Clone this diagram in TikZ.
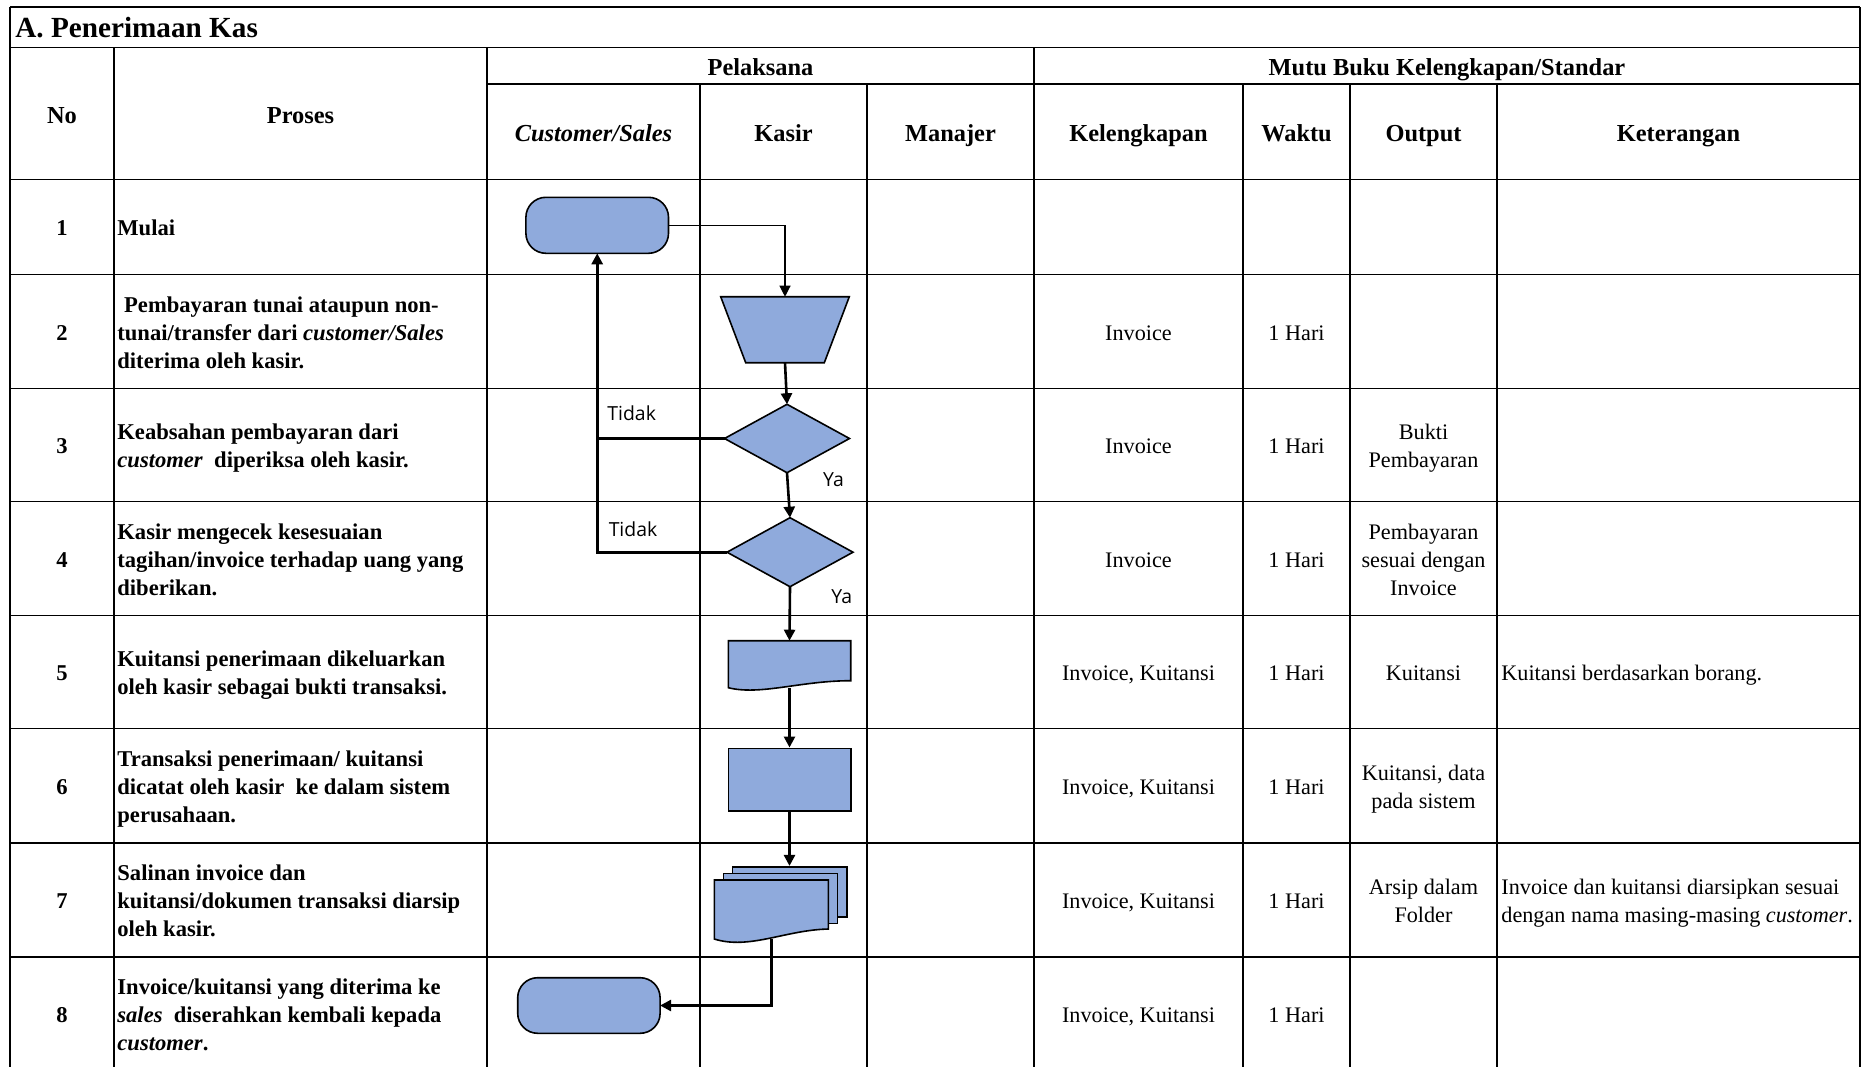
\documentclass[tikz,border=0pt]{standalone}
\usepackage{fontspec}
\setmainfont{Liberation Serif}
\newfontfamily\lblfont{Open Sans}
\usetikzlibrary{arrows.meta}
\definecolor{shapefill}{RGB}{143,170,220}
\newcommand\fbody{\fontsize{11.3}{14}\selectfont}
\newcommand\freg{\fontsize{11.1}{14}\selectfont}
\newcommand\fhead{\fontsize{12.2}{14}\selectfont\bfseries}
\newcommand\ftitle{\fontsize{14.6}{16}\selectfont\bfseries}
\newcommand\flbl{\lblfont\fontsize{9.7}{11}\selectfont}
\newcommand\stt{\rule[-3.5pt]{0pt}{14pt}}
\begin{document}
\begin{tikzpicture}[x=0.5pt,y=-0.5pt,
  tline/.style={line width=0.75pt},
  hline/.style={line width=0.65pt},
  cell/.style={font=\freg, align=center, inner sep=0pt, yshift=-0.75pt},
  proc/.style={font=\fbody\bfseries, align=left, anchor=west, inner sep=0pt, yshift=-0.75pt},
  ket/.style={font=\freg, align=left, anchor=west, inner sep=0pt, yshift=-0.75pt},
  hdr/.style={font=\fhead, align=center, inner sep=0pt, yshift=-1.5pt},
  num/.style={font=\fbody\bfseries, inner sep=0pt, yshift=-0.75pt},
  lbl/.style={font=\flbl, inner sep=0pt},
  flow/.style={fill=shapefill, draw=black, line width=0.8pt},
  holder/.style={draw=none, inner sep=0pt, outer sep=0pt},
  term/.style={flow, rounded corners=10pt, inner sep=0pt, outer sep=0pt},
  thinconn/.style={line width=0.6pt, -{Triangle[length=5.5pt,width=5.5pt]}},
  conn/.style={line width=1.3pt, -{Triangle[length=5.5pt,width=5.5pt]}},
  connline/.style={line width=1.3pt}
]
\useasboundingbox (0,0) rectangle (1864,1067);
\fill[white] (0,0) rectangle (1864,1067);

% ---------- table grid ----------
\foreach \x/\yt in {9.8/7, 114/47.5, 487/47.5, 700/84, 867/84, 1034/47.5, 1243/84, 1350/84, 1497/84, 1860/7}
  \draw[tline] (\x,\yt) -- (\x,1067);
\foreach \y in {7, 47.5, 179.5, 274.6, 388.7, 501.7, 615.8, 728.7, 842.9, 957}
  \draw[hline] (9.8,\y) -- (1860,\y);
\draw[hline] (487,84) -- (1860,84);

% ---------- title and headers ----------
\node[font=\ftitle, anchor=base west, inner sep=0pt] (title) at (15,37.7) {A. Penerimaan Kas};
\node[hdr] (hno) at (62,113.5) {\stt No};
\node[hdr] (hproses) at (300.5,113.5) {\stt Proses};
\node[hdr] (hpel) at (760.5,65.75) {\stt Pelaksana};
\node[hdr] (hmutu) at (1447,65.75) {\stt Mutu Buku Kelengkapan/Standar};
\node[hdr] (hcust) at (593.5,131.75) {\stt\textit{Customer/Sales}};
\node[hdr] (hkasir) at (783.5,131.75) {\stt Kasir};
\node[hdr] (hman) at (950.5,131.75) {\stt Manajer};
\node[hdr] (hkel) at (1138.5,131.75) {\stt Kelengkapan};
\node[hdr] (hwak) at (1296.5,131.75) {\stt Waktu};
\node[hdr] (hout) at (1423.5,131.75) {\stt Output};
\node[hdr] (hket) at (1678.5,131.75) {\stt Keterangan};

% ---------- numbers ----------
\node[num] (n1) at (62,227.05) {\stt 1};
\node[num] (n2) at (62,331.65) {\stt 2};
\node[num] (n3) at (62,445.2) {\stt 3};
\node[num] (n4) at (62,558.75) {\stt 4};
\node[num] (n5) at (62,672.25) {\stt 5};
\node[num] (n6) at (62,785.8) {\stt 6};
\node[num] (n7) at (62,899.95) {\stt 7};
\node[num] (n8) at (62,1014) {\stt 8};

% ---------- process texts ----------
\node[proc] (p1) at (117,227.05) {\stt Mulai};
\node[proc] (p2) at (117,331.65) {\stt\hspace*{0.3em}Pembayaran tunai ataupun non-\\\stt tunai/transfer dari \textit{customer/Sales}\\\stt diterima oleh kasir.};
\node[proc] (p3) at (117,445.2) {\stt Keabsahan pembayaran dari\\\stt\textit{customer}\ \ diperiksa oleh kasir.};
\node[proc] (p4) at (117,558.75) {\stt Kasir mengecek kesesuaian\\\stt tagihan/invoice terhadap uang yang\\\stt diberikan.};
\node[proc] (p5) at (117,672.25) {\stt Kuitansi penerimaan dikeluarkan\\\stt oleh kasir sebagai bukti transaksi.};
\node[proc] (p6) at (117,785.8) {\stt Transaksi penerimaan/ kuitansi\\\stt dicatat oleh kasir\ \ ke dalam sistem\\\stt perusahaan.};
\node[proc] (p7) at (117,899.95) {\stt Salinan invoice dan\\\stt kuitansi/dokumen transaksi diarsip\\\stt oleh kasir.};
\node[proc] (p8) at (117,1014) {\stt Invoice/kuitansi yang diterima ke\\\stt\textit{sales}\ \ diserahkan kembali kepada\\\stt\textit{customer}.};

% ---------- Kelengkapan / Waktu / Output / Keterangan ----------
\node[cell] (k2) at (1138.5,331.65) {\stt Invoice};
\node[cell] (k3) at (1138.5,445.2) {\stt Invoice};
\node[cell] (k4) at (1138.5,558.75) {\stt Invoice};
\node[cell] (k5) at (1138.5,672.25) {\stt Invoice, Kuitansi};
\node[cell] (k6) at (1138.5,785.8) {\stt Invoice, Kuitansi};
\node[cell] (k7) at (1138.5,899.95) {\stt Invoice, Kuitansi};
\node[cell] (k8) at (1138.5,1014) {\stt Invoice, Kuitansi};
\node[cell] (w2) at (1296.5,331.65) {\stt 1 Hari};
\node[cell] (w3) at (1296.5,445.2) {\stt 1 Hari};
\node[cell] (w4) at (1296.5,558.75) {\stt 1 Hari};
\node[cell] (w5) at (1296.5,672.25) {\stt 1 Hari};
\node[cell] (w6) at (1296.5,785.8) {\stt 1 Hari};
\node[cell] (w7) at (1296.5,899.95) {\stt 1 Hari};
\node[cell] (w8) at (1296.5,1014) {\stt 1 Hari};
\node[cell] (o3) at (1423.5,445.2) {\stt Bukti\\\stt Pembayaran};
\node[cell] (o4) at (1423.5,558.75) {\stt Pembayaran\\\stt sesuai dengan\\\stt Invoice};
\node[cell] (o5) at (1423.5,672.25) {\stt Kuitansi};
\node[cell] (o6) at (1423.5,785.8) {\stt Kuitansi, data\\\stt pada sistem};
\node[cell] (o7) at (1423.5,899.95) {\stt Arsip dalam\\\stt Folder};
\node[ket] (c5) at (1501,672.25) {\stt Kuitansi berdasarkan borang.};
\node[ket] (c7) at (1501,899.95) {\stt Invoice dan kuitansi diarsipkan sesuai\\\stt dengan nama masing-masing \textit{customer}.};

% ---------- flowchart shapes ----------
\node[term, minimum width=71.3pt, minimum height=28pt] (start) at (597.2,225.3) {};

\node[holder, minimum width=64.3pt, minimum height=33pt] (t2) at (785,329.7) {};
\filldraw[flow] (t2.north west) -- (t2.north east) -- ([xshift=-12.5pt]t2.south east) -- ([xshift=12.5pt]t2.south west) -- cycle;

\node[holder, minimum width=62.5pt, minimum height=34.2pt] (d1) at (787,438.5) {};
\filldraw[flow] (d1.north) -- (d1.east) -- (d1.south) -- (d1.west) -- cycle;

\node[holder, minimum width=63pt, minimum height=34.5pt] (d2) at (790,552.2) {};
\filldraw[flow] (d2.north) -- (d2.east) -- (d2.south) -- (d2.west) -- cycle;

\node[holder, minimum width=61.2pt, minimum height=23.5pt] (doc5) at (789.5,664.2) {};
\filldraw[flow] (doc5.north west) -- (doc5.north east) -- ([yshift=3.5pt]doc5.south east)
  .. controls +(-50,0) and +(32,8) .. (doc5.south west) -- cycle;

\node[flow, minimum width=61.2pt, minimum height=31.2pt, inner sep=0pt] (r6) at (789.5,779.5) {};

\node[flow, minimum width=57.2pt, minimum height=25pt, inner sep=0pt] (m7a) at (789.5,891.7) {};
\node[flow, minimum width=57pt, minimum height=25pt, inner sep=0pt] (m7b) at (780.3,898.3) {};
\node[holder, minimum width=57pt, minimum height=29.5pt] (m7c) at (771.3,909.5) {};
\filldraw[flow] (m7c.north west) -- (m7c.north east) -- ([yshift=5pt]m7c.south east)
  .. controls +(-43,1) and +(35,11) .. (m7c.south west) -- cycle;

\node[term, minimum width=71.2pt, minimum height=27.8pt] (end) at (588.9,1005.5) {};

% ---------- labels ----------
\node[lbl] (tidak1) at (631.7,413.3) {Tidak};
\node[lbl] (ya1) at (833.5,480) {Ya};
\node[lbl] (tidak2) at (633,529.3) {Tidak};
\node[lbl] (ya2) at (841.7,597) {Ya};

% ---------- connectors ----------
\draw[thinconn] (start.east) -| (t2.north);
\draw[conn] (t2.south) -- (d1.north);
\draw[conn] (d1.south) -- (d2.north);
\draw[connline] (d1.west) -- (d1.west -| start.south);
\draw[conn] (d2.west) -| (start.south);
\draw[conn] (d2.south) -- (doc5.north);
\draw[conn] (doc5.south) -- (r6.north);
\draw[conn] (r6.south) -- (m7a.north);
\draw[conn] (m7c.south) |- (end.east);
\end{tikzpicture}
\end{document}
